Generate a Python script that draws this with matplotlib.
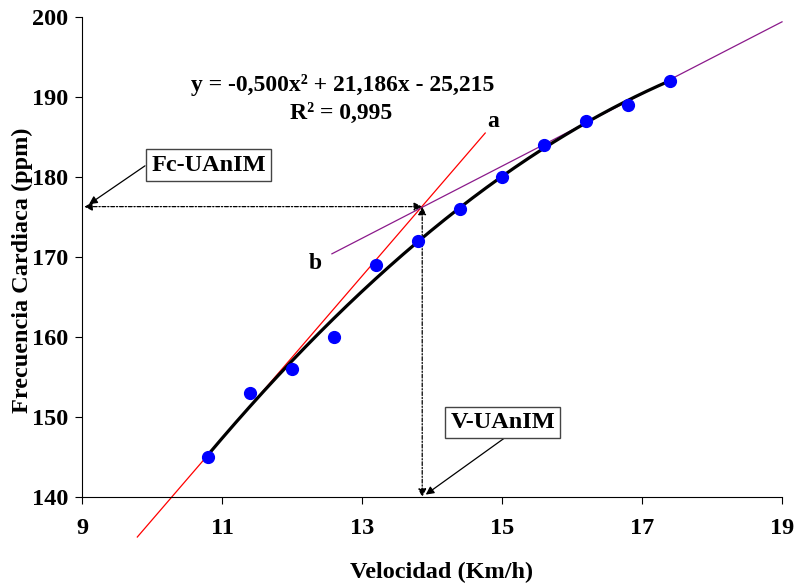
import numpy as np
import matplotlib
matplotlib.use('Agg')
from matplotlib import pyplot as plt

# datos
velocidad = [10.8, 11.4, 12.0, 12.6, 13.2, 13.8, 14.4, 15.0, 15.6, 16.2, 16.8, 17.4]
frecuencia = [145, 153, 156, 160, 169, 172, 176, 180, 184, 187, 189, 192]
coef = [-0.500, 21.186, -25.215]   # ajuste polinomico
recta_a_x = [9.79, 14.76]
recta_a_y = [135.0, 185.5]
recta_b_x = [12.57, 19.0]
recta_b_y = [170.4, 199.4]
umbral_v = 13.86
umbral_fc = 176.3
xticks = [9, 11, 13, 15, 17, 19]
yticks = [140, 150, 160, 170, 180, 190, 200]

plt.rcParams['font.family'] = ['Liberation Serif', 'DejaVu Serif']
plt.rcParams['font.weight'] = 'bold'

fig = plt.figure(figsize=(7.97, 5.85), dpi=100)
ax = fig.add_axes([0.1029, 0.1504, 0.8783, 0.8205])

xs = np.linspace(velocidad[0], velocidad[-1], 200)
ax.plot(xs, np.polyval(coef, xs), color='black', lw=2.3, zorder=3)
ax.plot(recta_a_x, recta_a_y, color='red', lw=0.9, clip_on=False, zorder=2)
ax.plot(recta_b_x, recta_b_y, color='#8B1A8B', lw=0.9, clip_on=False, zorder=2)
ax.plot(velocidad, frecuencia, 'o', color='#0000FF', ms=8.5, zorder=4)

# lineas punteadas con flechas
ap = dict(arrowstyle='<|-|>', linestyle=(0, (3, 1.5, 1, 1.5)), lw=0.9, color='black',
          mutation_scale=12, shrinkA=0, shrinkB=0)
ax.annotate('', xy=(9.03, umbral_fc), xytext=(umbral_v, umbral_fc), arrowprops=ap,
            annotation_clip=False)
ax.annotate('', xy=(umbral_v, 140.0), xytext=(umbral_v, umbral_fc), arrowprops=ap,
            annotation_clip=False)

# cajas
caja = dict(boxstyle='square,pad=0.22', fc='white', ec='#444444', lw=1.0)
flecha = dict(arrowstyle='-|>', color='black', lw=0.9, mutation_scale=12, shrinkA=0, shrinkB=0)
ax.text(10.81, 181.5, 'Fc-UAnIM', fontsize=17.5, ha='center', va='center', bbox=caja, zorder=5)
ax.annotate('', xy=(9.1, umbral_fc + 0.3), xytext=(9.9, 181.4), arrowprops=flecha,
            annotation_clip=False)
ax.text(15.01, 149.3, 'V-UAnIM', fontsize=17.5, ha='center', va='center', bbox=caja, zorder=5)
ax.annotate('', xy=(umbral_v + 0.05, 140.3), xytext=(15.04, 147.4), arrowprops=flecha,
            annotation_clip=False)

ax.text(12.73, 191.5, 'y = -0,500x² + 21,186x - 25,215', fontsize=17,
        ha='center', va='center')
ax.text(12.70, 188.0, 'R² = 0,995', fontsize=17, ha='center', va='center')
ax.text(14.87, 186.9, 'a', fontsize=17, ha='center', va='center')
ax.text(12.33, 169.2, 'b', fontsize=17, ha='center', va='center')

ax.set_xlim(9, 19)
ax.set_ylim(140, 200)
ax.set_xticks(xticks)
ax.set_yticks(yticks)
ax.tick_params(direction='out', length=5, width=0.8, labelsize=17.5)
ax.tick_params(axis='x', pad=10)
ax.tick_params(axis='y', pad=5)
for lab in ax.get_xticklabels() + ax.get_yticklabels():
    lab.set_fontweight('bold')
ax.spines['top'].set_visible(False)
ax.spines['right'].set_visible(False)

fig.text(0.554, 0.022, 'Velocidad (Km/h)', fontsize=17.5, fontweight='bold',
         ha='center', va='center')
fig.text(0.028, 0.538, 'Frecuencia Cardiaca (ppm)', fontsize=17.5, fontweight='bold',
         ha='center', va='center', rotation=90)

plt.savefig('out.png', dpi=100)
